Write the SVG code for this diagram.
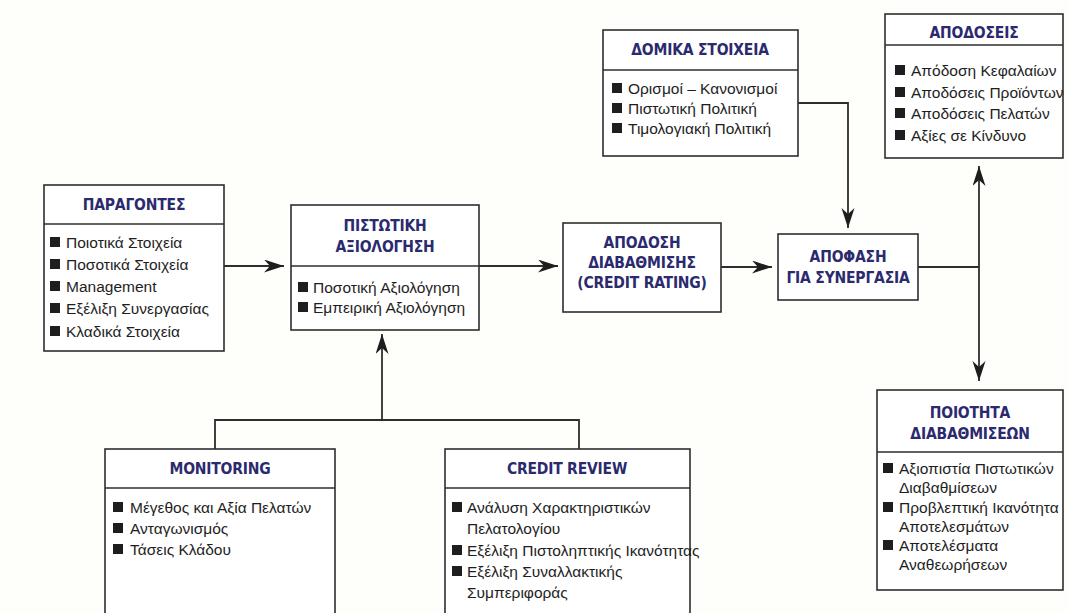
<svg xmlns="http://www.w3.org/2000/svg" width="1069" height="613" viewBox="0 0 1069 613">
<style>
.bg{fill:#fefefb}
.box{fill:#ffffff;stroke:#2e2e2e;stroke-width:1.6}
.div{stroke:#2e2e2e;stroke-width:1.4}
.t{font-family:"DejaVu Sans Condensed","DejaVu Sans",sans-serif;font-stretch:condensed;font-weight:bold;font-size:15.5px;letter-spacing:-0.2px;fill:#2b2a6e;text-anchor:middle}
.i{font-family:"Liberation Sans",Arial,sans-serif;font-size:15.5px;fill:#1e1e1e}
.b{fill:#1e1e1e}
.c{fill:none;stroke:#2e2e2e;stroke-width:1.8}
</style>
<defs>
<marker id="ah" markerUnits="userSpaceOnUse" markerWidth="22" markerHeight="14" refX="20" refY="6.5" orient="auto">
<path d="M0,0 L20,6.5 L0,13 L6,6.5 z" fill="#1e1e1e"/>
</marker>
<rect id="sq" width="10" height="10"/>
</defs>
<rect class="bg" x="0" y="0" width="1069" height="613"/>

<g id="connectors">
<line class="c" x1="224" y1="266" x2="284" y2="266" marker-end="url(#ah)"/>
<line class="c" x1="479" y1="266" x2="558" y2="266" marker-end="url(#ah)"/>
<line class="c" x1="721" y1="267" x2="772" y2="267" marker-end="url(#ah)"/>
<polyline class="c" points="798,103 848,103 848,228" marker-end="url(#ah)"/>
<line class="c" x1="918" y1="267" x2="979" y2="267"/>
<line class="c" x1="979" y1="267" x2="979" y2="166" marker-end="url(#ah)"/>
<line class="c" x1="979" y1="267" x2="979" y2="381" marker-end="url(#ah)"/>
<polyline class="c" points="215,449 215,420 579,420 579,449"/>
<line class="c" x1="382" y1="420" x2="382" y2="334" marker-end="url(#ah)"/>
</g>

<g id="paragontes">
<rect class="box" x="44" y="185" width="180" height="166"/>
<line class="div" x1="44" y1="224" x2="224" y2="224"/>
<text class="t" x="134" y="210">ΠΑΡΑΓΟΝΤΕΣ</text>
<use href="#sq" class="b" x="50" y="237"/><text class="i" x="66" y="248">Ποιοτικά Στοιχεία</text>
<use href="#sq" class="b" x="50" y="259"/><text class="i" x="66" y="270">Ποσοτικά Στοιχεία</text>
<use href="#sq" class="b" x="50" y="281"/><text class="i" x="66" y="292">Management</text>
<use href="#sq" class="b" x="50" y="303"/><text class="i" x="66" y="314">Εξέλιξη Συνεργασίας</text>
<use href="#sq" class="b" x="50" y="326"/><text class="i" x="66" y="337">Κλαδικά Στοιχεία</text>
</g>

<g id="pistotiki">
<rect class="box" x="291" y="205" width="188" height="125"/>
<line class="div" x1="291" y1="266" x2="479" y2="266"/>
<text class="t" x="385" y="231">ΠΙΣΤΩΤΙΚΗ</text>
<text class="t" x="385" y="252">ΑΞΙΟΛΟΓΗΣΗ</text>
<use href="#sq" class="b" x="298" y="282"/><text class="i" x="313" y="293">Ποσοτική Αξιολόγηση</text>
<use href="#sq" class="b" x="298" y="302"/><text class="i" x="313" y="313">Εμπειρική Αξιολόγηση</text>
</g>

<g id="apodosi">
<rect class="box" x="563" y="223" width="158" height="89"/>
<text class="t" x="642" y="248">ΑΠΟΔΟΣΗ</text>
<text class="t" x="642" y="268">ΔΙΑΒΑΘΜΙΣΗΣ</text>
<text class="t" x="642" y="288">(CREDIT RATING)</text>
</g>

<g id="apofasi">
<rect class="box" x="778" y="234" width="140" height="66"/>
<text class="t" x="848" y="262">ΑΠΟΦΑΣΗ</text>
<text class="t" x="848" y="283">ΓΙΑ ΣΥΝΕΡΓΑΣΙΑ</text>
</g>

<g id="domika">
<rect class="box" x="603" y="30" width="195" height="126"/>
<line class="div" x1="603" y1="70" x2="798" y2="70"/>
<text class="t" x="700" y="55">ΔΟΜΙΚΑ ΣΤΟΙΧΕΙΑ</text>
<use href="#sq" class="b" x="612" y="83"/><text class="i" x="628" y="94">Ορισμοί – Κανονισμοί</text>
<use href="#sq" class="b" x="612" y="103"/><text class="i" x="628" y="114">Πιστωτική Πολιτική</text>
<use href="#sq" class="b" x="612" y="123"/><text class="i" x="628" y="134">Τιμολογιακή Πολιτική</text>
</g>

<g id="apodoseis">
<rect class="box" x="885" y="14" width="178" height="144"/>
<line class="div" x1="885" y1="45" x2="1063" y2="45"/>
<text class="t" x="974" y="38">ΑΠΟΔΟΣΕΙΣ</text>
<use href="#sq" class="b" x="895" y="65"/><text class="i" x="911" y="76">Απόδοση Κεφαλαίων</text>
<use href="#sq" class="b" x="895" y="87"/><text class="i" x="911" y="98">Αποδόσεις Προϊόντων</text>
<use href="#sq" class="b" x="895" y="108"/><text class="i" x="911" y="119">Αποδόσεις Πελατών</text>
<use href="#sq" class="b" x="895" y="130"/><text class="i" x="911" y="141">Αξίες σε Κίνδυνο</text>
</g>

<g id="poiotita">
<rect class="box" x="877" y="390" width="186" height="200"/>
<line class="div" x1="877" y1="452" x2="1063" y2="452"/>
<text class="t" x="970" y="418">ΠΟΙΟΤΗΤΑ</text>
<text class="t" x="970" y="439">ΔΙΑΒΑΘΜΙΣΕΩΝ</text>
<use href="#sq" class="b" x="883" y="463"/><text class="i" x="899" y="474">Αξιοπιστία Πιστωτικών</text>
<text class="i" x="899" y="493">Διαβαθμίσεων</text>
<use href="#sq" class="b" x="883" y="502"/><text class="i" x="899" y="513">Προβλεπτική Ικανότητα</text>
<text class="i" x="899" y="532">Αποτελεσμάτων</text>
<use href="#sq" class="b" x="883" y="540"/><text class="i" x="899" y="551">Αποτελέσματα</text>
<text class="i" x="899" y="570">Αναθεωρήσεων</text>
</g>

<g id="monitoring">
<rect class="box" x="105" y="449" width="230" height="180"/>
<line class="div" x1="105" y1="488" x2="335" y2="488"/>
<text class="t" x="220" y="474">MONITORING</text>
<use href="#sq" class="b" x="113" y="502"/><text class="i" x="130" y="513">Μέγεθος και Αξία Πελατών</text>
<use href="#sq" class="b" x="113" y="523"/><text class="i" x="130" y="534">Ανταγωνισμός</text>
<use href="#sq" class="b" x="113" y="544"/><text class="i" x="130" y="555">Τάσεις Κλάδου</text>
</g>

<g id="credit-review">
<rect class="box" x="445" y="449" width="245" height="180"/>
<line class="div" x1="445" y1="488" x2="690" y2="488"/>
<text class="t" x="567" y="474">CREDIT REVIEW</text>
<use href="#sq" class="b" x="452" y="502"/><text class="i" x="467" y="513">Ανάλυση Χαρακτηριστικών</text>
<text class="i" x="467" y="534">Πελατολογίου</text>
<use href="#sq" class="b" x="452" y="545"/><text class="i" x="467" y="556">Εξέλιξη Πιστοληπτικής Ικανότητας</text>
<use href="#sq" class="b" x="452" y="566"/><text class="i" x="467" y="577">Εξέλιξη Συναλλακτικής</text>
<text class="i" x="467" y="598">Συμπεριφοράς</text>
</g>
</svg>
